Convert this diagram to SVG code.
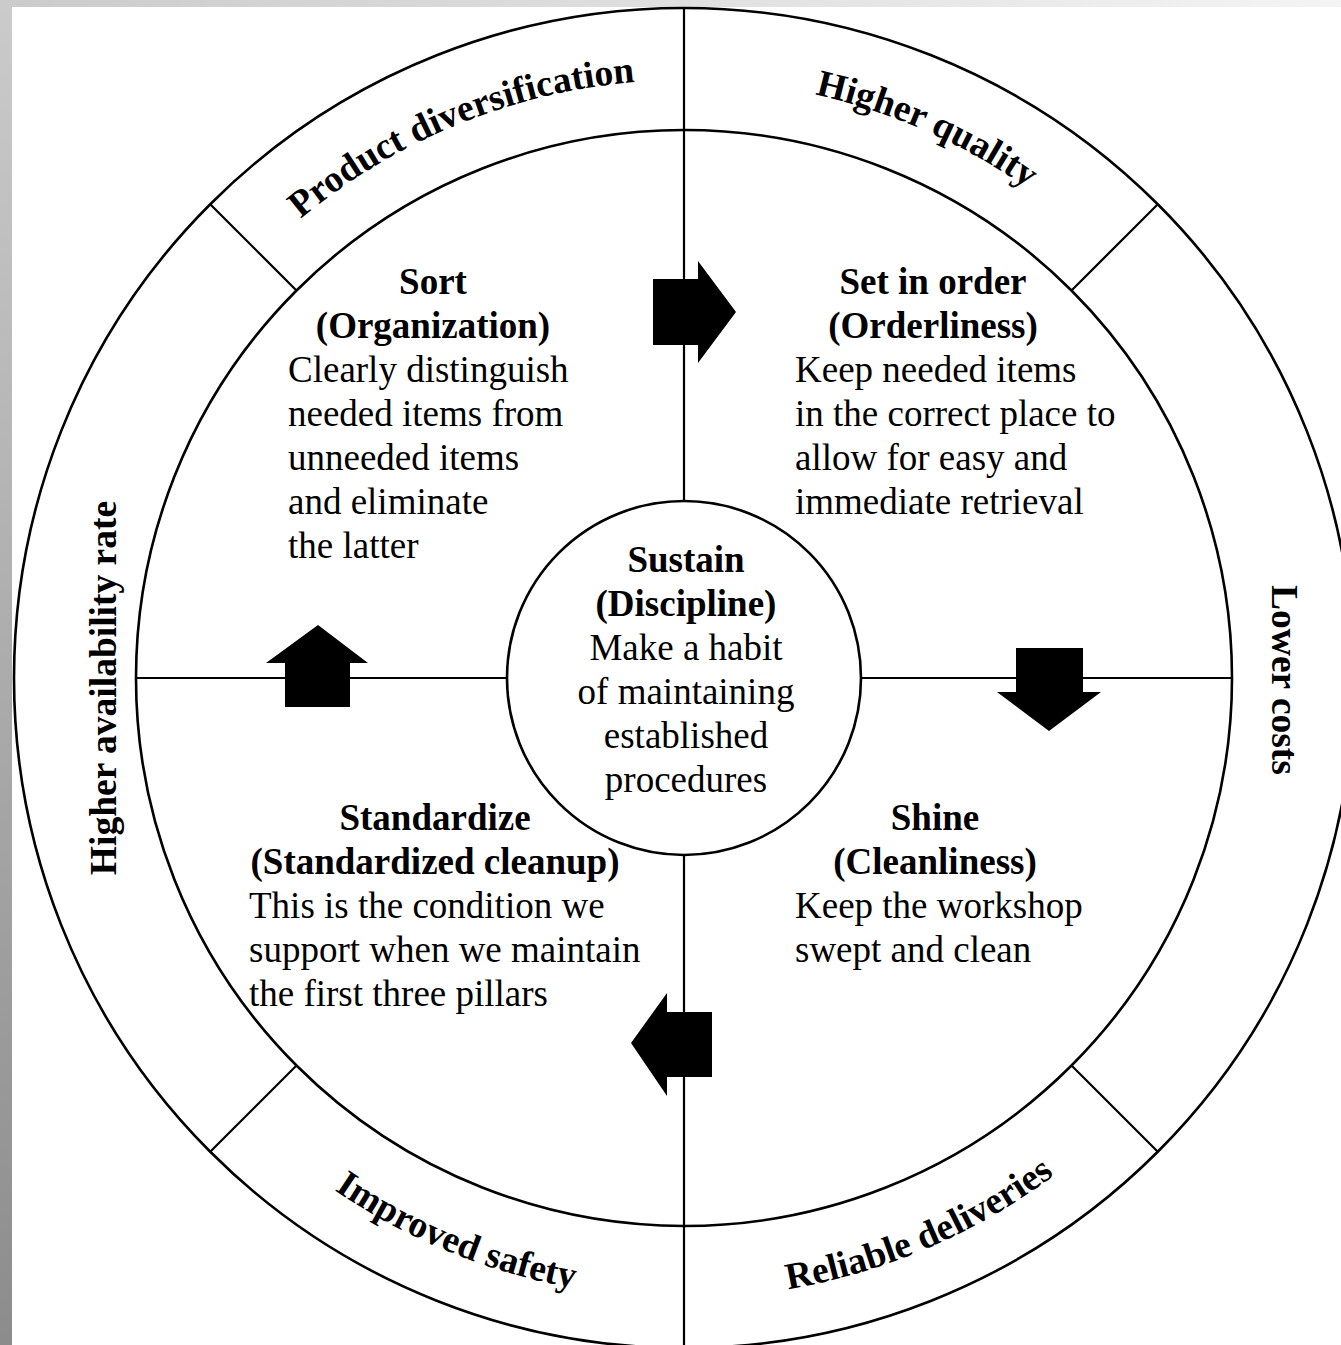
<svg xmlns="http://www.w3.org/2000/svg" width="1341" height="1345" viewBox="0 0 1341 1345">
  <defs>
    <linearGradient id="frameLeft" x1="0" y1="0" x2="0" y2="1">
      <stop offset="0" stop-color="#cbcbcb"/>
      <stop offset="1" stop-color="#8c8c8c"/>
    </linearGradient>
    <linearGradient id="frameTop" x1="0" y1="0" x2="1" y2="0">
      <stop offset="0" stop-color="#cbcbcb"/>
      <stop offset="1" stop-color="#f4f4f4"/>
    </linearGradient>
    <!-- arcs used to lay out the outer-ring labels -->
    <path id="arcTL" d="M 261.1 255.1 A 598 598 0 0 1 684 80"/>
    <path id="arcTR" d="M 684 80 A 598 598 0 0 1 1106.9 255.1"/>
    <path id="arcBL" d="M 245.6 1116.4 A 620 620 0 0 0 684 1298"/>
    <path id="arcBR" d="M 684 1298 A 620 620 0 0 0 1122.4 1116.4"/>
    <style>
      .ring { fill: none; stroke: #000; stroke-width: 2.6; }
      .rule { stroke: #000; stroke-width: 2.2; fill: none; }
      .arrow { fill: #000; stroke: none; }
      text { font-family: "Liberation Serif", "Times New Roman", serif; font-size: 37px; fill: #000; }
      .title { font-weight: bold; text-anchor: middle; }
      .mid { text-anchor: middle; }
      .label { font-weight: bold; font-size: 37.5px; }
    </style>
  </defs>

  <!-- page frame -->
  <rect x="0" y="0" width="1341" height="1345" fill="#ffffff"/>
  <rect x="0" y="0" width="12" height="1345" fill="url(#frameLeft)"/>
  <rect x="12" y="0" width="1329" height="7" fill="url(#frameTop)"/>

  <!-- wheel structure -->
  <g id="wheel">
    <circle class="ring" cx="684" cy="678" r="670"/>
    <circle class="ring" cx="684" cy="678" r="548"/>
    <line class="rule" x1="684" y1="8" x2="684" y2="501"/>
    <line class="rule" x1="684" y1="855" x2="684" y2="1345"/>
    <line class="rule" x1="136" y1="678" x2="507" y2="678"/>
    <line class="rule" x1="861" y1="678" x2="1232" y2="678"/>
    <line class="rule" x1="296.5" y1="290.5" x2="210.2" y2="204.2"/>
    <line class="rule" x1="1071.5" y1="290.5" x2="1157.8" y2="204.2"/>
    <line class="rule" x1="296.5" y1="1065.5" x2="210.2" y2="1151.8"/>
    <line class="rule" x1="1071.5" y1="1065.5" x2="1157.8" y2="1151.8"/>
  </g>

  <!-- cycle arrows between the pillars -->
  <g id="connectors">
    <polygon class="arrow" points="653,279 698,279 698,261 736,312 698,363 698,345 653,345"/>
    <polygon class="arrow" points="1016,648 1083,648 1083,692 1101,692 1049,731 997,692 1016,692"/>
    <polygon class="arrow" points="712,1012 712,1077 667,1077 667,1096 631,1043 667,993 667,1012"/>
    <polygon class="arrow" points="285,707 285,663 266,663 318,625 368,663 350,663 350,707"/>
  </g>

  <!-- centre: sustain -->
  <g id="sustain">
    <circle class="ring" cx="684" cy="678" r="177" fill="#fff"/>
    <text class="title" x="686" y="572">Sustain</text>
    <text class="title" x="686" y="616">(Discipline)</text>
    <text class="mid" x="686" y="660">Make a habit</text>
    <text class="mid" x="686" y="704">of maintaining</text>
    <text class="mid" x="686" y="748">established</text>
    <text class="mid" x="686" y="792">procedures</text>
  </g>

  <g id="sort">
    <text class="title" x="433" y="294">Sort</text>
    <text class="title" x="433" y="338">(Organization)</text>
    <text x="288" y="382">Clearly distinguish</text>
    <text x="288" y="426">needed items from</text>
    <text x="288" y="470">unneeded items</text>
    <text x="288" y="514">and eliminate</text>
    <text x="288" y="558">the latter</text>
  </g>

  <g id="set-in-order">
    <text class="title" x="933" y="294">Set in order</text>
    <text class="title" x="933" y="338">(Orderliness)</text>
    <text x="795" y="382">Keep needed items</text>
    <text x="795" y="426">in the correct place to</text>
    <text x="795" y="470">allow for easy and</text>
    <text x="795" y="514">immediate retrieval</text>
  </g>

  <g id="shine">
    <text class="title" x="935" y="830">Shine</text>
    <text class="title" x="935" y="874">(Cleanliness)</text>
    <text x="795" y="918">Keep the workshop</text>
    <text x="795" y="962">swept and clean</text>
  </g>

  <g id="standardize">
    <text class="title" x="435" y="830">Standardize</text>
    <text class="title" x="435" y="874">(Standardized cleanup)</text>
    <text x="249" y="918">This is the condition we</text>
    <text x="249" y="962">support when we maintain</text>
    <text x="249" y="1006">the first three pillars</text>
  </g>

  <!-- outer ring benefits -->
  <g id="product-diversification">
    <text class="label"><textPath href="#arcTL" startOffset="50.5%" text-anchor="middle">Product diversification</textPath></text>
  </g>
  <g id="higher-quality">
    <text class="label"><textPath href="#arcTR" startOffset="53%" text-anchor="middle">Higher quality</textPath></text>
  </g>
  <g id="lower-costs">
    <text class="label mid" transform="translate(1272 680) rotate(90)">Lower costs</text>
  </g>
  <g id="reliable-deliveries">
    <text class="label"><textPath href="#arcBR" startOffset="51.5%" text-anchor="middle">Reliable deliveries</textPath></text>
  </g>
  <g id="improved-safety">
    <text class="label"><textPath href="#arcBL" startOffset="50.5%" text-anchor="middle">Improved safety</textPath></text>
  </g>
  <g id="higher-availability-rate">
    <text class="label mid" transform="translate(116 688) rotate(-90)">Higher availability rate</text>
  </g>
</svg>
